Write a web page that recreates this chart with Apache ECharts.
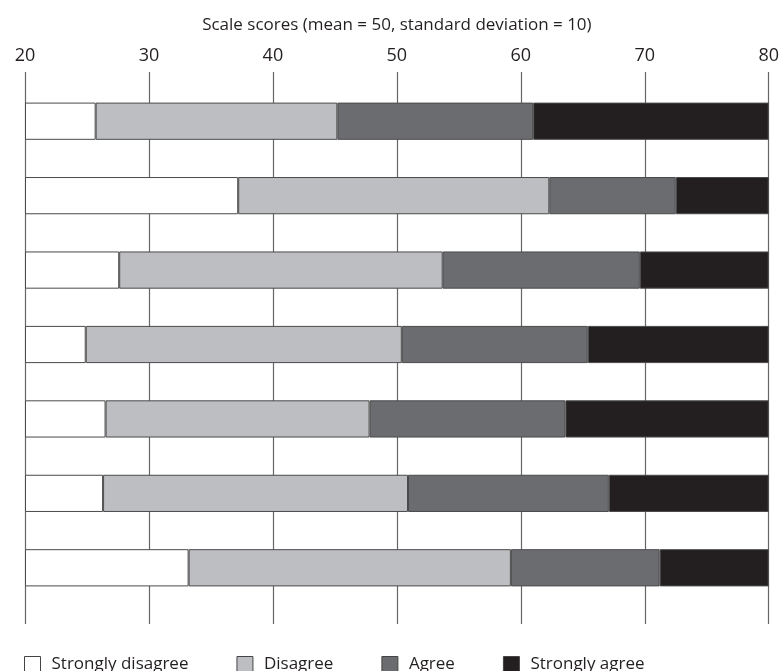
<!DOCTYPE html>
<html>
<head>
<meta charset="utf-8">
<script src="https://cdn.jsdelivr.net/npm/echarts@6/dist/echarts.min.js"></script>
<style>
  html, body { margin: 0; padding: 0; background: #fff; }
  #chart { width: 782px; height: 671px; }
</style>
</head>
<body>
<div id="chart"></div>
<script>
// one row per item, top to bottom
const rows = ['1', '2', '3', '4', '5', '6', '7']
const seriesNames = ['Strongly disagree', 'Disagree', 'Agree', 'Strongly agree']

// cut points on the scale (where each band ends)
const axisMin = 20
const axisMax = 80
const stronglyDisagreeEnd = [25.7, 37.2, 27.6, 24.9, 26.5, 26.3, 33.2]
const disagreeEnd = [45.2, 62.3, 53.7, 50.4, 47.8, 50.9, 59.2]
const agreeEnd = [61.0, 72.5, 69.6, 65.4, 63.6, 67.1, 71.2]

const colors = ['#ffffff', '#bdbec2', '#6b6c70', '#231f20']

const chart = echarts.init(document.getElementById('chart'))

const diff = (hi, lo) => hi.map((v, i) => +(v - (Array.isArray(lo) ? lo[i] : lo)).toFixed(2))

const segments = [
  diff(stronglyDisagreeEnd, axisMin),
  diff(disagreeEnd, stronglyDisagreeEnd),
  diff(agreeEnd, disagreeEnd),
  agreeEnd.map(v => +(axisMax - v).toFixed(2))
]

const barSeries = seriesNames.map((name, i) => ({
  name: name,
  type: 'bar',
  stack: 'total',
  barCategoryGap: '50%',
  data: segments[i],
  itemStyle: { color: colors[i], borderColor: '#4a4a4a', borderWidth: 1 },
  emphasis: { disabled: true }
}))

const option = {
  animation: false,
  grid: { left: 25, right: 9, top: 84, bottom: 66 },
  legend: {
    data: seriesNames,
    left: 19,
    top: 651,
    icon: 'rect',
    itemWidth: 16,
    itemHeight: 16,
    itemGap: 48,
    itemStyle: { borderColor: '#444', borderWidth: 1 },
    textStyle: { fontFamily: 'Open Sans', fontSize: 17, color: '#231f20', padding: [0, 0, 0, 6] }
  },
  xAxis: [
    {
      type: 'value',
      position: 'top',
      min: axisMin,
      max: axisMax,
      interval: 10,
      name: 'Scale scores (mean = 50, standard deviation = 10)',
      nameLocation: 'middle',
      nameGap: 50,
      nameTextStyle: { fontFamily: 'Open Sans', fontSize: 17, color: '#231f20' },
      axisLine: { show: false },
      axisTick: { show: true, length: 12, lineStyle: { color: '#666', width: 1.2 } },
      axisLabel: { fontFamily: 'Open Sans', fontSize: 18, color: '#231f20', margin: 19 },
      splitLine: { show: true, lineStyle: { color: '#666', width: 1.2 } }
    },
    {
      type: 'value',
      position: 'bottom',
      min: axisMin,
      max: axisMax,
      interval: 10,
      axisLine: { show: false },
      axisTick: { show: true, length: 19, lineStyle: { color: '#666', width: 1.2 } },
      axisLabel: { show: false },
      splitLine: { show: false }
    }
  ],
  yAxis: {
    type: 'category',
    data: rows,
    inverse: true,
    axisLine: { show: false },
    axisTick: { show: false },
    axisLabel: { show: false },
    splitLine: { show: false }
  },
  series: [
    {
      name: 'base',
      type: 'bar',
      stack: 'total',
      barCategoryGap: '50%',
      silent: true,
      data: rows.map(() => axisMin),
      itemStyle: { color: 'transparent' }
    }
  ].concat(barSeries)
}

chart.setOption(option)

window.addEventListener('resize', () => chart.resize())
</script>
</body>
</html>
